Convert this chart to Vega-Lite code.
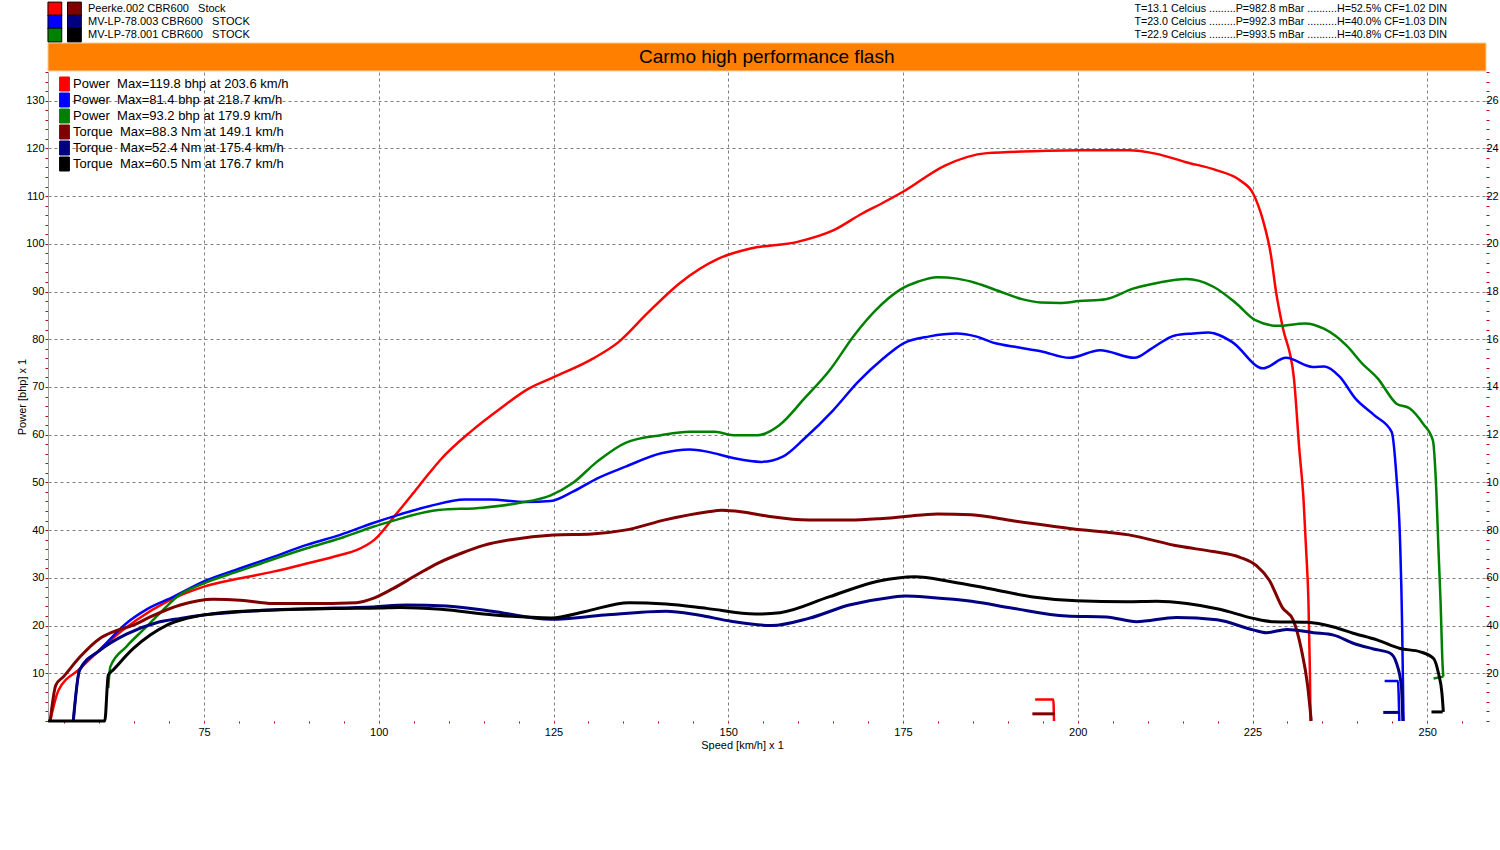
{
  "$schema": "https://vega.github.io/schema/vega-lite/v6.json",
  "description": "Dyno run comparison: power and torque against road speed for three CBR600 runs.",
  "width": 1438,
  "height": 649,
  "autosize": "none",
  "padding": {"left": 48, "top": 72, "right": 14, "bottom": 129},
  "background": "white",
  "datasets": {
    "series": [
      {"s": "PR", "label": "Power\u00a0\u00a0Max=119.8 bhp at 203.6 km/h"},
      {"s": "PB", "label": "Power\u00a0\u00a0Max=81.4 bhp at 218.7 km/h"},
      {"s": "PG", "label": "Power\u00a0\u00a0Max=93.2 bhp at 179.9 km/h"},
      {"s": "TR", "label": "Torque\u00a0\u00a0Max=88.3 Nm at 149.1 km/h"},
      {"s": "TB", "label": "Torque\u00a0\u00a0Max=52.4 Nm at 175.4 km/h"},
      {"s": "TK", "label": "Torque\u00a0\u00a0Max=60.5 Nm at 176.7 km/h"}
    ],
    "power": [
      {"s": "PR", "part": "m", "v": 53.0, "bhp": 0},
      {"s": "PR", "part": "m", "v": 54.2, "bhp": 6.5},
      {"s": "PR", "part": "m", "v": 57.3, "bhp": 11.0},
      {"s": "PR", "part": "m", "v": 61.1, "bhp": 16.3},
      {"s": "PR", "part": "m", "v": 65.4, "bhp": 21.2},
      {"s": "PR", "part": "m", "v": 69.7, "bhp": 25.0},
      {"s": "PR", "part": "m", "v": 74.9, "bhp": 28.1},
      {"s": "PR", "part": "m", "v": 80.2, "bhp": 29.9},
      {"s": "PR", "part": "m", "v": 84.9, "bhp": 31.3},
      {"s": "PR", "part": "m", "v": 89.7, "bhp": 33.0},
      {"s": "PR", "part": "m", "v": 94.5, "bhp": 34.8},
      {"s": "PR", "part": "m", "v": 96.8, "bhp": 35.8},
      {"s": "PR", "part": "m", "v": 99.4, "bhp": 38.0},
      {"s": "PR", "part": "m", "v": 102.4, "bhp": 43.2},
      {"s": "PR", "part": "m", "v": 104.9, "bhp": 47.7},
      {"s": "PR", "part": "m", "v": 107.2, "bhp": 51.9},
      {"s": "PR", "part": "m", "v": 108.8, "bhp": 54.7},
      {"s": "PR", "part": "m", "v": 113.2, "bhp": 60.7},
      {"s": "PR", "part": "m", "v": 117.4, "bhp": 65.5},
      {"s": "PR", "part": "m", "v": 121.5, "bhp": 69.7},
      {"s": "PR", "part": "m", "v": 125.1, "bhp": 72.1},
      {"s": "PR", "part": "m", "v": 130.7, "bhp": 76.0},
      {"s": "PR", "part": "m", "v": 134.3, "bhp": 79.4},
      {"s": "PR", "part": "m", "v": 138.4, "bhp": 85.4},
      {"s": "PR", "part": "m", "v": 143.0, "bhp": 91.7},
      {"s": "PR", "part": "m", "v": 148.6, "bhp": 96.9},
      {"s": "PR", "part": "m", "v": 153.2, "bhp": 99.0},
      {"s": "PR", "part": "m", "v": 159.9, "bhp": 100.4},
      {"s": "PR", "part": "m", "v": 165.0, "bhp": 102.8},
      {"s": "PR", "part": "m", "v": 169.1, "bhp": 106.3},
      {"s": "PR", "part": "m", "v": 172.0, "bhp": 108.5},
      {"s": "PR", "part": "m", "v": 175.0, "bhp": 110.9},
      {"s": "PR", "part": "m", "v": 181.0, "bhp": 116.4},
      {"s": "PR", "part": "m", "v": 187.0, "bhp": 119.0},
      {"s": "PR", "part": "m", "v": 193.6, "bhp": 119.4},
      {"s": "PR", "part": "m", "v": 200.2, "bhp": 119.6},
      {"s": "PR", "part": "m", "v": 207.3, "bhp": 119.6},
      {"s": "PR", "part": "m", "v": 211.1, "bhp": 118.9},
      {"s": "PR", "part": "m", "v": 215.5, "bhp": 117.1},
      {"s": "PR", "part": "m", "v": 219.9, "bhp": 115.4},
      {"s": "PR", "part": "m", "v": 223.2, "bhp": 113.3},
      {"s": "PR", "part": "m", "v": 225.1, "bhp": 110.5},
      {"s": "PR", "part": "m", "v": 226.5, "bhp": 104.9},
      {"s": "PR", "part": "m", "v": 227.6, "bhp": 97.9},
      {"s": "PR", "part": "m", "v": 228.4, "bhp": 89.6},
      {"s": "PR", "part": "m", "v": 229.3, "bhp": 82.6},
      {"s": "PR", "part": "m", "v": 230.9, "bhp": 72.1},
      {"s": "PR", "part": "m", "v": 231.7, "bhp": 56.8},
      {"s": "PR", "part": "m", "v": 232.3, "bhp": 46.3},
      {"s": "PR", "part": "m", "v": 232.7, "bhp": 35.0},
      {"s": "PR", "part": "m", "v": 233.0, "bhp": 25.0},
      {"s": "PR", "part": "m", "v": 233.2, "bhp": 11.0},
      {"s": "PR", "part": "m", "v": 233.3, "bhp": 0},
      {"s": "PR", "part": "a", "v": 193.9, "bhp": 4.5},
      {"s": "PR", "part": "a", "v": 196.5, "bhp": 4.5},
      {"s": "PR", "part": "a", "v": 196.6, "bhp": 0},
      {"s": "PB", "part": "m", "v": 56.3, "bhp": 0},
      {"s": "PB", "part": "m", "v": 57.2, "bhp": 10.7},
      {"s": "PB", "part": "m", "v": 60.1, "bhp": 14.9},
      {"s": "PB", "part": "m", "v": 63.9, "bhp": 20.5},
      {"s": "PB", "part": "m", "v": 66.8, "bhp": 23.4},
      {"s": "PB", "part": "m", "v": 70.6, "bhp": 26.0},
      {"s": "PB", "part": "m", "v": 74.9, "bhp": 29.2},
      {"s": "PB", "part": "m", "v": 80.2, "bhp": 32.0},
      {"s": "PB", "part": "m", "v": 84.9, "bhp": 34.4},
      {"s": "PB", "part": "m", "v": 89.7, "bhp": 36.9},
      {"s": "PB", "part": "m", "v": 94.5, "bhp": 39.0},
      {"s": "PB", "part": "m", "v": 99.2, "bhp": 41.5},
      {"s": "PB", "part": "m", "v": 102.6, "bhp": 43.1},
      {"s": "PB", "part": "m", "v": 107.2, "bhp": 45.0},
      {"s": "PB", "part": "m", "v": 112.3, "bhp": 46.4},
      {"s": "PB", "part": "m", "v": 115.9, "bhp": 46.4},
      {"s": "PB", "part": "m", "v": 121.0, "bhp": 45.9},
      {"s": "PB", "part": "m", "v": 124.6, "bhp": 46.1},
      {"s": "PB", "part": "m", "v": 127.7, "bhp": 48.0},
      {"s": "PB", "part": "m", "v": 131.2, "bhp": 50.8},
      {"s": "PB", "part": "m", "v": 135.3, "bhp": 53.3},
      {"s": "PB", "part": "m", "v": 140.4, "bhp": 56.1},
      {"s": "PB", "part": "m", "v": 144.5, "bhp": 56.9},
      {"s": "PB", "part": "m", "v": 147.1, "bhp": 56.4},
      {"s": "PB", "part": "m", "v": 150.7, "bhp": 55.1},
      {"s": "PB", "part": "m", "v": 154.7, "bhp": 54.3},
      {"s": "PB", "part": "m", "v": 157.8, "bhp": 55.4},
      {"s": "PB", "part": "m", "v": 160.9, "bhp": 59.2},
      {"s": "PB", "part": "m", "v": 165.0, "bhp": 65.1},
      {"s": "PB", "part": "m", "v": 168.6, "bhp": 71.1},
      {"s": "PB", "part": "m", "v": 172.2, "bhp": 76.0},
      {"s": "PB", "part": "m", "v": 175.0, "bhp": 79.1},
      {"s": "PB", "part": "m", "v": 178.8, "bhp": 80.6},
      {"s": "PB", "part": "m", "v": 182.7, "bhp": 81.2},
      {"s": "PB", "part": "m", "v": 185.4, "bhp": 80.6},
      {"s": "PB", "part": "m", "v": 188.1, "bhp": 79.2},
      {"s": "PB", "part": "m", "v": 191.4, "bhp": 78.3},
      {"s": "PB", "part": "m", "v": 194.7, "bhp": 77.5},
      {"s": "PB", "part": "m", "v": 198.8, "bhp": 76.1},
      {"s": "PB", "part": "m", "v": 203.2, "bhp": 77.7},
      {"s": "PB", "part": "m", "v": 208.1, "bhp": 76.1},
      {"s": "PB", "part": "m", "v": 210.6, "bhp": 78.1},
      {"s": "PB", "part": "m", "v": 213.9, "bhp": 80.8},
      {"s": "PB", "part": "m", "v": 216.5, "bhp": 81.2},
      {"s": "PB", "part": "m", "v": 218.7, "bhp": 81.4},
      {"s": "PB", "part": "m", "v": 222.1, "bhp": 79.4},
      {"s": "PB", "part": "m", "v": 226.5, "bhp": 73.9},
      {"s": "PB", "part": "m", "v": 229.8, "bhp": 76.1},
      {"s": "PB", "part": "m", "v": 233.6, "bhp": 74.2},
      {"s": "PB", "part": "m", "v": 235.3, "bhp": 74.3},
      {"s": "PB", "part": "m", "v": 237.5, "bhp": 72.1},
      {"s": "PB", "part": "m", "v": 239.7, "bhp": 67.6},
      {"s": "PB", "part": "m", "v": 242.4, "bhp": 64.1},
      {"s": "PB", "part": "m", "v": 244.9, "bhp": 60.6},
      {"s": "PB", "part": "m", "v": 245.6, "bhp": 51.0},
      {"s": "PB", "part": "m", "v": 246.1, "bhp": 38.0},
      {"s": "PB", "part": "m", "v": 246.4, "bhp": 20.0},
      {"s": "PB", "part": "m", "v": 246.5, "bhp": 10.0},
      {"s": "PB", "part": "m", "v": 246.6, "bhp": 0},
      {"s": "PB", "part": "a", "v": 243.9, "bhp": 8.4},
      {"s": "PB", "part": "a", "v": 245.8, "bhp": 8.4},
      {"s": "PB", "part": "a", "v": 246.0, "bhp": 0},
      {"s": "PG", "part": "m", "v": 61.3, "bhp": 6.9},
      {"s": "PG", "part": "m", "v": 61.6, "bhp": 11.4},
      {"s": "PG", "part": "m", "v": 63.9, "bhp": 15.6},
      {"s": "PG", "part": "m", "v": 66.3, "bhp": 19.1},
      {"s": "PG", "part": "m", "v": 68.7, "bhp": 22.6},
      {"s": "PG", "part": "m", "v": 71.1, "bhp": 26.0},
      {"s": "PG", "part": "m", "v": 74.9, "bhp": 28.8},
      {"s": "PG", "part": "m", "v": 80.2, "bhp": 31.5},
      {"s": "PG", "part": "m", "v": 84.9, "bhp": 33.9},
      {"s": "PG", "part": "m", "v": 89.7, "bhp": 36.2},
      {"s": "PG", "part": "m", "v": 94.5, "bhp": 38.3},
      {"s": "PG", "part": "m", "v": 99.2, "bhp": 40.7},
      {"s": "PG", "part": "m", "v": 102.6, "bhp": 42.2},
      {"s": "PG", "part": "m", "v": 104.5, "bhp": 43.0},
      {"s": "PG", "part": "m", "v": 108.5, "bhp": 44.2},
      {"s": "PG", "part": "m", "v": 114.9, "bhp": 44.7},
      {"s": "PG", "part": "m", "v": 120.0, "bhp": 45.7},
      {"s": "PG", "part": "m", "v": 124.6, "bhp": 47.3},
      {"s": "PG", "part": "m", "v": 127.7, "bhp": 49.8},
      {"s": "PG", "part": "m", "v": 131.2, "bhp": 54.3},
      {"s": "PG", "part": "m", "v": 135.3, "bhp": 58.3},
      {"s": "PG", "part": "m", "v": 140.4, "bhp": 59.9},
      {"s": "PG", "part": "m", "v": 144.5, "bhp": 60.6},
      {"s": "PG", "part": "m", "v": 148.1, "bhp": 60.6},
      {"s": "PG", "part": "m", "v": 150.7, "bhp": 59.9},
      {"s": "PG", "part": "m", "v": 154.2, "bhp": 59.9},
      {"s": "PG", "part": "m", "v": 157.3, "bhp": 62.0},
      {"s": "PG", "part": "m", "v": 160.9, "bhp": 67.6},
      {"s": "PG", "part": "m", "v": 164.5, "bhp": 73.5},
      {"s": "PG", "part": "m", "v": 168.0, "bhp": 80.8},
      {"s": "PG", "part": "m", "v": 171.1, "bhp": 86.1},
      {"s": "PG", "part": "m", "v": 174.6, "bhp": 90.4},
      {"s": "PG", "part": "m", "v": 177.2, "bhp": 92.1},
      {"s": "PG", "part": "m", "v": 179.9, "bhp": 93.0},
      {"s": "PG", "part": "m", "v": 182.7, "bhp": 92.7},
      {"s": "PG", "part": "m", "v": 185.4, "bhp": 91.8},
      {"s": "PG", "part": "m", "v": 188.7, "bhp": 90.1},
      {"s": "PG", "part": "m", "v": 192.0, "bhp": 88.4},
      {"s": "PG", "part": "m", "v": 194.7, "bhp": 87.7},
      {"s": "PG", "part": "m", "v": 197.4, "bhp": 87.6},
      {"s": "PG", "part": "m", "v": 200.2, "bhp": 88.0},
      {"s": "PG", "part": "m", "v": 204.0, "bhp": 88.4},
      {"s": "PG", "part": "m", "v": 207.9, "bhp": 90.6},
      {"s": "PG", "part": "m", "v": 211.7, "bhp": 91.9},
      {"s": "PG", "part": "m", "v": 215.5, "bhp": 92.6},
      {"s": "PG", "part": "m", "v": 219.4, "bhp": 91.0},
      {"s": "PG", "part": "m", "v": 222.6, "bhp": 87.6},
      {"s": "PG", "part": "m", "v": 225.4, "bhp": 84.0},
      {"s": "PG", "part": "m", "v": 228.6, "bhp": 82.8},
      {"s": "PG", "part": "m", "v": 232.5, "bhp": 83.3},
      {"s": "PG", "part": "m", "v": 235.2, "bhp": 82.2},
      {"s": "PG", "part": "m", "v": 238.5, "bhp": 78.6},
      {"s": "PG", "part": "m", "v": 240.7, "bhp": 74.9},
      {"s": "PG", "part": "m", "v": 242.9, "bhp": 71.8},
      {"s": "PG", "part": "m", "v": 245.6, "bhp": 66.5},
      {"s": "PG", "part": "m", "v": 247.5, "bhp": 65.5},
      {"s": "PG", "part": "m", "v": 249.4, "bhp": 62.3},
      {"s": "PG", "part": "m", "v": 250.8, "bhp": 58.8},
      {"s": "PG", "part": "m", "v": 251.3, "bhp": 48.0},
      {"s": "PG", "part": "m", "v": 251.6, "bhp": 36.0},
      {"s": "PG", "part": "m", "v": 251.9, "bhp": 25.0},
      {"s": "PG", "part": "m", "v": 252.2, "bhp": 11.4},
      {"s": "PG", "part": "m", "v": 252.3, "bhp": 9.3},
      {"s": "PG", "part": "a", "v": 250.9, "bhp": 8.9},
      {"s": "PG", "part": "a", "v": 252.3, "bhp": 9.3}
    ],
    "torque": [
      {"s": "TR", "part": "m", "v": 53.0, "nm": 0},
      {"s": "TR", "part": "m", "v": 53.8, "nm": 15.0},
      {"s": "TR", "part": "m", "v": 54.9, "nm": 18.6},
      {"s": "TR", "part": "m", "v": 57.3, "nm": 27.0},
      {"s": "TR", "part": "m", "v": 60.1, "nm": 34.6},
      {"s": "TR", "part": "m", "v": 62.0, "nm": 37.4},
      {"s": "TR", "part": "m", "v": 64.9, "nm": 40.2},
      {"s": "TR", "part": "m", "v": 67.3, "nm": 43.6},
      {"s": "TR", "part": "m", "v": 71.6, "nm": 48.6},
      {"s": "TR", "part": "m", "v": 76.3, "nm": 51.0},
      {"s": "TR", "part": "m", "v": 80.2, "nm": 50.6},
      {"s": "TR", "part": "m", "v": 84.9, "nm": 49.2},
      {"s": "TR", "part": "m", "v": 89.7, "nm": 49.2},
      {"s": "TR", "part": "m", "v": 96.8, "nm": 49.6},
      {"s": "TR", "part": "m", "v": 99.2, "nm": 51.4},
      {"s": "TR", "part": "m", "v": 102.1, "nm": 55.6},
      {"s": "TR", "part": "m", "v": 105.4, "nm": 61.2},
      {"s": "TR", "part": "m", "v": 108.5, "nm": 66.2},
      {"s": "TR", "part": "m", "v": 111.9, "nm": 70.4},
      {"s": "TR", "part": "m", "v": 115.0, "nm": 73.6},
      {"s": "TR", "part": "m", "v": 118.9, "nm": 76.0},
      {"s": "TR", "part": "m", "v": 125.0, "nm": 78.0},
      {"s": "TR", "part": "m", "v": 130.5, "nm": 78.4},
      {"s": "TR", "part": "m", "v": 135.2, "nm": 80.0},
      {"s": "TR", "part": "m", "v": 141.1, "nm": 84.4},
      {"s": "TR", "part": "m", "v": 146.9, "nm": 87.6},
      {"s": "TR", "part": "m", "v": 149.1, "nm": 88.3},
      {"s": "TR", "part": "m", "v": 152.0, "nm": 87.6},
      {"s": "TR", "part": "m", "v": 155.7, "nm": 85.8},
      {"s": "TR", "part": "m", "v": 161.5, "nm": 84.2},
      {"s": "TR", "part": "m", "v": 167.3, "nm": 84.2},
      {"s": "TR", "part": "m", "v": 171.7, "nm": 84.8},
      {"s": "TR", "part": "m", "v": 175.0, "nm": 85.6},
      {"s": "TR", "part": "m", "v": 179.9, "nm": 86.8},
      {"s": "TR", "part": "m", "v": 184.8, "nm": 86.4},
      {"s": "TR", "part": "m", "v": 190.9, "nm": 83.8},
      {"s": "TR", "part": "m", "v": 199.1, "nm": 80.6},
      {"s": "TR", "part": "m", "v": 207.3, "nm": 78.0},
      {"s": "TR", "part": "m", "v": 214.6, "nm": 73.2},
      {"s": "TR", "part": "m", "v": 219.4, "nm": 71.0},
      {"s": "TR", "part": "m", "v": 223.2, "nm": 68.6},
      {"s": "TR", "part": "m", "v": 225.6, "nm": 65.0},
      {"s": "TR", "part": "m", "v": 227.4, "nm": 59.0},
      {"s": "TR", "part": "m", "v": 229.3, "nm": 47.4},
      {"s": "TR", "part": "m", "v": 230.8, "nm": 42.4},
      {"s": "TR", "part": "m", "v": 232.0, "nm": 29.8},
      {"s": "TR", "part": "m", "v": 232.9, "nm": 14.4},
      {"s": "TR", "part": "m", "v": 233.4, "nm": 0},
      {"s": "TR", "part": "a", "v": 193.5, "nm": 3.0},
      {"s": "TR", "part": "a", "v": 196.7, "nm": 3.0},
      {"s": "TB", "part": "m", "v": 56.3, "nm": 0},
      {"s": "TB", "part": "m", "v": 57.2, "nm": 21.4},
      {"s": "TB", "part": "m", "v": 60.1, "nm": 29.6},
      {"s": "TB", "part": "m", "v": 63.9, "nm": 36.4},
      {"s": "TB", "part": "m", "v": 68.2, "nm": 41.2},
      {"s": "TB", "part": "m", "v": 71.6, "nm": 43.0},
      {"s": "TB", "part": "m", "v": 74.9, "nm": 44.4},
      {"s": "TB", "part": "m", "v": 80.2, "nm": 45.8},
      {"s": "TB", "part": "m", "v": 89.7, "nm": 47.0},
      {"s": "TB", "part": "m", "v": 99.2, "nm": 47.8},
      {"s": "TB", "part": "m", "v": 104.0, "nm": 48.6},
      {"s": "TB", "part": "m", "v": 109.7, "nm": 48.2},
      {"s": "TB", "part": "m", "v": 116.2, "nm": 46.0},
      {"s": "TB", "part": "m", "v": 124.7, "nm": 42.6},
      {"s": "TB", "part": "m", "v": 132.3, "nm": 44.4},
      {"s": "TB", "part": "m", "v": 141.1, "nm": 46.0},
      {"s": "TB", "part": "m", "v": 145.7, "nm": 44.4},
      {"s": "TB", "part": "m", "v": 150.4, "nm": 41.8},
      {"s": "TB", "part": "m", "v": 156.2, "nm": 40.0},
      {"s": "TB", "part": "m", "v": 161.5, "nm": 43.0},
      {"s": "TB", "part": "m", "v": 167.3, "nm": 48.6},
      {"s": "TB", "part": "m", "v": 173.2, "nm": 51.8},
      {"s": "TB", "part": "m", "v": 175.4, "nm": 52.4},
      {"s": "TB", "part": "m", "v": 179.0, "nm": 51.8},
      {"s": "TB", "part": "m", "v": 184.8, "nm": 50.2},
      {"s": "TB", "part": "m", "v": 190.5, "nm": 47.4},
      {"s": "TB", "part": "m", "v": 198.4, "nm": 44.0},
      {"s": "TB", "part": "m", "v": 204.1, "nm": 43.6},
      {"s": "TB", "part": "m", "v": 208.4, "nm": 41.6},
      {"s": "TB", "part": "m", "v": 214.1, "nm": 43.4},
      {"s": "TB", "part": "m", "v": 219.9, "nm": 42.4},
      {"s": "TB", "part": "m", "v": 225.1, "nm": 38.2},
      {"s": "TB", "part": "m", "v": 227.0, "nm": 37.0},
      {"s": "TB", "part": "m", "v": 229.9, "nm": 38.4},
      {"s": "TB", "part": "m", "v": 233.7, "nm": 37.0},
      {"s": "TB", "part": "m", "v": 236.6, "nm": 36.0},
      {"s": "TB", "part": "m", "v": 239.4, "nm": 32.6},
      {"s": "TB", "part": "m", "v": 242.3, "nm": 30.2},
      {"s": "TB", "part": "m", "v": 244.7, "nm": 28.4},
      {"s": "TB", "part": "m", "v": 245.6, "nm": 24.2},
      {"s": "TB", "part": "m", "v": 246.3, "nm": 14.4},
      {"s": "TB", "part": "m", "v": 246.5, "nm": 0},
      {"s": "TB", "part": "a", "v": 243.7, "nm": 3.6},
      {"s": "TB", "part": "a", "v": 246.1, "nm": 3.6},
      {"s": "TK", "part": "m", "v": 52.7, "nm": 0},
      {"s": "TK", "part": "m", "v": 60.8, "nm": 0},
      {"s": "TK", "part": "m", "v": 61.3, "nm": 19.2},
      {"s": "TK", "part": "m", "v": 62.0, "nm": 21.4},
      {"s": "TK", "part": "m", "v": 64.9, "nm": 30.4},
      {"s": "TK", "part": "m", "v": 67.3, "nm": 36.0},
      {"s": "TK", "part": "m", "v": 69.7, "nm": 40.2},
      {"s": "TK", "part": "m", "v": 72.5, "nm": 43.0},
      {"s": "TK", "part": "m", "v": 76.8, "nm": 45.2},
      {"s": "TK", "part": "m", "v": 84.0, "nm": 46.4},
      {"s": "TK", "part": "m", "v": 93.5, "nm": 47.2},
      {"s": "TK", "part": "m", "v": 100.2, "nm": 47.4},
      {"s": "TK", "part": "m", "v": 103.0, "nm": 47.6},
      {"s": "TK", "part": "m", "v": 108.9, "nm": 46.8},
      {"s": "TK", "part": "m", "v": 116.5, "nm": 44.4},
      {"s": "TK", "part": "m", "v": 124.7, "nm": 43.2},
      {"s": "TK", "part": "m", "v": 129.4, "nm": 45.8},
      {"s": "TK", "part": "m", "v": 135.8, "nm": 49.6},
      {"s": "TK", "part": "m", "v": 141.1, "nm": 49.0},
      {"s": "TK", "part": "m", "v": 146.9, "nm": 47.2},
      {"s": "TK", "part": "m", "v": 153.9, "nm": 44.8},
      {"s": "TK", "part": "m", "v": 157.4, "nm": 45.4},
      {"s": "TK", "part": "m", "v": 164.4, "nm": 52.0},
      {"s": "TK", "part": "m", "v": 171.4, "nm": 58.6},
      {"s": "TK", "part": "m", "v": 176.7, "nm": 60.5},
      {"s": "TK", "part": "m", "v": 181.9, "nm": 58.4},
      {"s": "TK", "part": "m", "v": 187.8, "nm": 55.2},
      {"s": "TK", "part": "m", "v": 193.6, "nm": 52.0},
      {"s": "TK", "part": "m", "v": 199.8, "nm": 50.4},
      {"s": "TK", "part": "m", "v": 207.0, "nm": 50.0},
      {"s": "TK", "part": "m", "v": 211.3, "nm": 50.2},
      {"s": "TK", "part": "m", "v": 215.6, "nm": 49.2},
      {"s": "TK", "part": "m", "v": 220.3, "nm": 46.8},
      {"s": "TK", "part": "m", "v": 225.1, "nm": 43.0},
      {"s": "TK", "part": "m", "v": 228.0, "nm": 41.6},
      {"s": "TK", "part": "m", "v": 232.8, "nm": 41.4},
      {"s": "TK", "part": "m", "v": 236.6, "nm": 39.4},
      {"s": "TK", "part": "m", "v": 239.4, "nm": 36.8},
      {"s": "TK", "part": "m", "v": 242.8, "nm": 34.0},
      {"s": "TK", "part": "m", "v": 246.1, "nm": 30.4},
      {"s": "TK", "part": "m", "v": 249.0, "nm": 29.0},
      {"s": "TK", "part": "m", "v": 250.9, "nm": 26.2},
      {"s": "TK", "part": "m", "v": 251.6, "nm": 20.0},
      {"s": "TK", "part": "m", "v": 252.1, "nm": 11.6},
      {"s": "TK", "part": "m", "v": 252.3, "nm": 3.8},
      {"s": "TK", "part": "a", "v": 250.6, "nm": 3.8},
      {"s": "TK", "part": "a", "v": 252.2, "nm": 3.8}
    ],
    "header": [
      {"row": 1, "run": "Peerke.002 CBR600\u00a0\u00a0 Stock", "cond": "T=13.1 Celcius .........P=982.8 mBar ..........H=52.5% CF=1.02 DIN"},
      {"row": 2, "run": "MV-LP-78.003 CBR600\u00a0\u00a0 STOCK", "cond": "T=23.0 Celcius .........P=992.3 mBar ..........H=40.0% CF=1.03 DIN"},
      {"row": 3, "run": "MV-LP-78.001 CBR600\u00a0\u00a0 STOCK", "cond": "T=22.9 Celcius .........P=993.5 mBar ..........H=40.8% CF=1.03 DIN"}
    ]
  },
  "layer": [
    {
      "data": {"name": "power"},
      "transform": [{"lookup": "s", "from": {"data": {"name": "series"}, "key": "s", "fields": ["label"]}}],
      "mark": {"type": "line", "strokeWidth": 2.5, "interpolate": "monotone"},
      "encoding": {
        "x": {
          "field": "v",
          "type": "quantitative",
          "scale": {"domain": [52.68, 258.4], "nice": false, "zero": false},
          "axis": {
            "title": "Speed [km/h] x 1",
            "values": [55, 60, 65, 70, 75, 80, 85, 90, 95, 100, 105, 110, 115, 120, 125, 130, 135, 140, 145, 150, 155, 160, 165, 170, 175, 180, 185, 190, 195, 200, 205, 210, 215, 220, 225, 230, 235, 240, 245, 250, 255],
            "tickCount": 200,
            "format": "d",
            "labelExpr": "datum.value % 25 == 0 ? datum.label : ''",
            "labelOverlap": false,
            "grid": true,
            "gridColor": "#808080",
            "gridDash": [3, 3],
            "gridOpacity": {"condition": {"test": "datum.value % 25 == 0", "value": 1}, "value": 0},
            "domain": false,
            "tickColor": "#c00000",
            "tickSize": 2,
            "labelFontSize": 11,
            "labelColor": "black",
            "labelPadding": 3,
            "titleFontSize": 11,
            "titleFontWeight": "normal",
            "titleColor": "black",
            "titlePadding": 2,
            "titleX": 694
          }
        },
        "y": {
          "field": "bhp",
          "type": "quantitative",
          "scale": {"domain": [0, 136], "nice": false, "zero": false},
          "axis": {
            "title": "Power [bhp] x 1",
            "orient": "left",
            "values": [0, 2, 4, 6, 8, 10, 12, 14, 16, 18, 20, 22, 24, 26, 28, 30, 32, 34, 36, 38, 40, 42, 44, 46, 48, 50, 52, 54, 56, 58, 60, 62, 64, 66, 68, 70, 72, 74, 76, 78, 80, 82, 84, 86, 88, 90, 92, 94, 96, 98, 100, 102, 104, 106, 108, 110, 112, 114, 116, 118, 120, 122, 124, 126, 128, 130, 132, 134, 136],
            "tickCount": 200,
            "format": "d",
            "labelExpr": "datum.value % 10 == 0 && datum.value > 0 ? datum.label : ''",
            "labelOverlap": false,
            "grid": true,
            "gridColor": "#808080",
            "gridDash": [3, 3],
            "gridOpacity": {"condition": {"test": "datum.value % 10 == 0 && datum.value > 0", "value": 1}, "value": 0},
            "domain": true,
            "domainColor": "#a0a0a0",
            "tickColor": "#c00000",
            "tickSize": 3,
            "labelFontSize": 11,
            "labelColor": "black",
            "labelPadding": 1,
            "titleFontSize": 11,
            "titleFontWeight": "normal",
            "titleColor": "black",
            "titlePadding": -2
          }
        },
        "color": {
          "field": "label",
          "type": "nominal",
          "scale": {
            "domain": [
              "Power\u00a0\u00a0Max=119.8 bhp at 203.6 km/h",
              "Power\u00a0\u00a0Max=81.4 bhp at 218.7 km/h",
              "Power\u00a0\u00a0Max=93.2 bhp at 179.9 km/h",
              "Torque\u00a0\u00a0Max=88.3 Nm at 149.1 km/h",
              "Torque\u00a0\u00a0Max=52.4 Nm at 175.4 km/h",
              "Torque\u00a0\u00a0Max=60.5 Nm at 176.7 km/h"
            ],
            "range": ["#ff0000", "#0000ff", "#008000", "#800000", "#000080", "#000000"]
          },
          "legend": {
            "title": null,
            "orient": "none",
            "legendX": 9,
            "legendY": 4,
            "padding": 0,
            "symbolType": "M-0.7,-1H0.7V1H-0.7Z",
            "symbolSize": 196,
            "symbolStrokeWidth": 1,
            "labelFontSize": 13,
            "labelColor": "black",
            "labelLimit": 500,
            "labelOffset": 1,
            "clipHeight": 16,
            "rowPadding": 0,
            "encode": {
              "symbols": {
                "update": {
                  "fill": {"scale": "color", "field": "value"},
                  "stroke": {"value": "black"},
                  "strokeWidth": {"value": 1},
                  "opacity": {"value": 1}
                }
              }
            }
          }
        },
        "detail": {"field": "part"}
      }
    },
    {
      "data": {"name": "torque"},
      "transform": [{"lookup": "s", "from": {"data": {"name": "series"}, "key": "s", "fields": ["label"]}}],
      "mark": {"type": "line", "strokeWidth": 3, "interpolate": "monotone"},
      "encoding": {
        "x": {"field": "v", "type": "quantitative", "scale": {"domain": [52.68, 258.4], "nice": false, "zero": false}},
        "y": {
          "field": "nm",
          "type": "quantitative",
          "scale": {"domain": [0, 272], "nice": false, "zero": false},
          "axis": {
            "title": null,
            "orient": "right",
            "values": [0, 4, 8, 12, 16, 20, 24, 28, 32, 36, 40, 44, 48, 52, 56, 60, 64, 68, 72, 76, 80, 84, 88, 92, 96, 100, 104, 108, 112, 116, 120, 124, 128, 132, 136, 140, 144, 148, 152, 156, 160, 164, 168, 172, 176, 180, 184, 188, 192, 196, 200, 204, 208, 212, 216, 220, 224, 228, 232, 236, 240, 244, 248, 252, 256, 260, 264, 268, 272],
            "tickCount": 200,
            "format": "d",
            "labelExpr": "datum.value % 20 == 0 && datum.value > 0 ? (datum.value >= 100 ? format(datum.value / 10, 'd') : datum.label) : ''",
            "labelOverlap": false,
            "grid": false,
            "domain": false,
            "tickColor": "#c00000",
            "tickSize": 3,
            "labelFontSize": 11,
            "labelColor": "black",
            "labelPadding": -3
          }
        },
        "color": {
          "field": "label",
          "type": "nominal",
          "scale": {
            "domain": [
              "Power\u00a0\u00a0Max=119.8 bhp at 203.6 km/h",
              "Power\u00a0\u00a0Max=81.4 bhp at 218.7 km/h",
              "Power\u00a0\u00a0Max=93.2 bhp at 179.9 km/h",
              "Torque\u00a0\u00a0Max=88.3 Nm at 149.1 km/h",
              "Torque\u00a0\u00a0Max=52.4 Nm at 175.4 km/h",
              "Torque\u00a0\u00a0Max=60.5 Nm at 176.7 km/h"
            ],
            "range": ["#ff0000", "#0000ff", "#008000", "#800000", "#000080", "#000000"]
          }
        },
        "detail": {"field": "part"}
      }
    },
    {
      "layer": [
        {
          "data": {"values": [{"t": "Carmo high performance flash"}]},
          "mark": {"type": "rect", "fill": "#ff8000", "stroke": "#f2cf9c", "strokeWidth": 1},
          "encoding": {
            "x": {"datum": 52.68, "type": "quantitative", "scale": {"domain": [52.68, 258.4], "nice": false, "zero": false}},
            "x2": {"datum": 258.4},
            "y": {"datum": 3.615, "type": "quantitative", "scale": {"domain": [5.846, 55.769], "reverse": true, "nice": false, "zero": false}, "axis": null},
            "y2": {"datum": 5.769}
          }
        },
        {
          "data": {"values": [{"t": "Carmo high performance flash"}]},
          "mark": {"type": "text", "fontSize": 19, "color": "black", "align": "center", "baseline": "middle"},
          "encoding": {
            "x": {"datum": 155.5, "type": "quantitative", "scale": {"domain": [52.68, 258.4], "nice": false, "zero": false}},
            "y": {"datum": 4.692, "type": "quantitative", "scale": {"domain": [5.846, 55.769], "reverse": true, "nice": false, "zero": false}, "axis": null},
            "text": {"field": "t"}
          }
        },
        {
          "data": {"name": "header"},
          "mark": {"type": "point", "shape": "square", "filled": true, "size": 190, "stroke": "black", "strokeWidth": 1, "opacity": 1},
          "encoding": {
            "x": {"datum": 53.66, "type": "quantitative", "scale": {"domain": [52.68, 258.4], "nice": false, "zero": false}},
            "y": {"field": "row", "type": "quantitative", "scale": {"domain": [5.846, 55.769], "reverse": true, "nice": false, "zero": false}, "axis": null},
            "fill": {"condition": [{"test": "datum.row == 1", "value": "#ff0000"}, {"test": "datum.row == 2", "value": "#0000ff"}], "value": "#008000"}
          }
        },
        {
          "data": {"name": "header"},
          "mark": {"type": "point", "shape": "square", "filled": true, "size": 190, "stroke": "black", "strokeWidth": 1, "opacity": 1},
          "encoding": {
            "x": {"datum": 56.46, "type": "quantitative", "scale": {"domain": [52.68, 258.4], "nice": false, "zero": false}},
            "y": {"field": "row", "type": "quantitative", "scale": {"domain": [5.846, 55.769], "reverse": true, "nice": false, "zero": false}, "axis": null},
            "fill": {"condition": [{"test": "datum.row == 1", "value": "#800000"}, {"test": "datum.row == 2", "value": "#000080"}], "value": "#000000"}
          }
        },
        {
          "data": {"name": "header"},
          "mark": {"type": "text", "fontSize": 11, "color": "black", "align": "left", "baseline": "middle"},
          "encoding": {
            "x": {"datum": 58.4, "type": "quantitative", "scale": {"domain": [52.68, 258.4], "nice": false, "zero": false}},
            "y": {"field": "row", "type": "quantitative", "scale": {"domain": [5.846, 55.769], "reverse": true, "nice": false, "zero": false}, "axis": null},
            "text": {"field": "run"}
          }
        },
        {
          "data": {"name": "header"},
          "mark": {"type": "text", "fontSize": 10.7, "color": "black", "align": "left", "baseline": "middle"},
          "encoding": {
            "x": {"datum": 208.1, "type": "quantitative", "scale": {"domain": [52.68, 258.4], "nice": false, "zero": false}},
            "y": {"field": "row", "type": "quantitative", "scale": {"domain": [5.846, 55.769], "reverse": true, "nice": false, "zero": false}, "axis": null},
            "text": {"field": "cond"}
          }
        }
      ]
    }
  ],
  "resolve": {"scale": {"y": "independent"}},
  "config": {
    "font": "Liberation Sans",
    "view": {"stroke": null}
  }
}
